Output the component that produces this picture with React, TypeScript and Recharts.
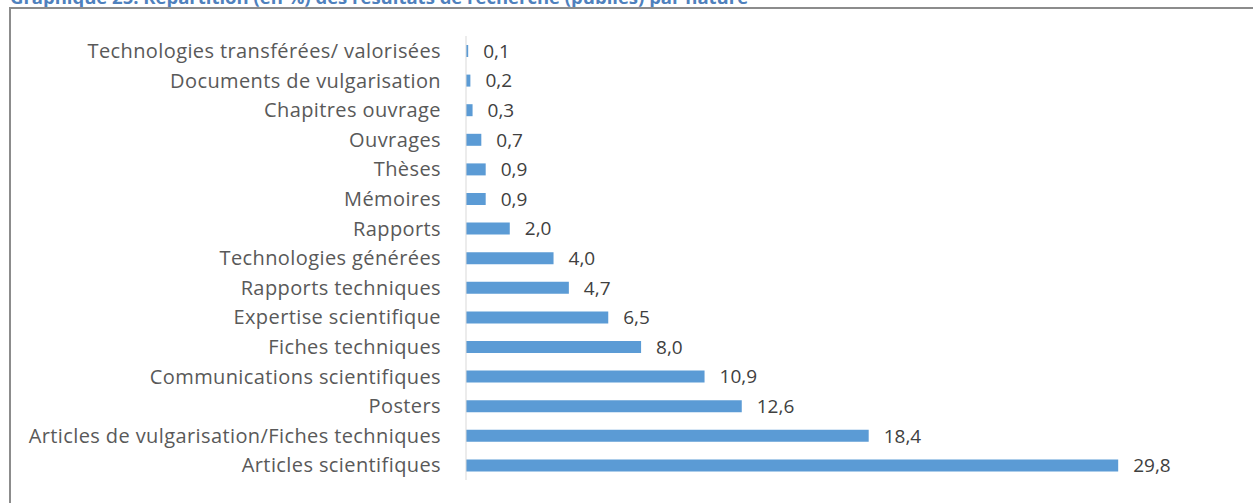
import { BarChart, Bar, XAxis, YAxis, LabelList } from "recharts";

const categories = [
  "Technologies transférées/ valorisées",
  "Documents de vulgarisation",
  "Chapitres ouvrage",
  "Ouvrages",
  "Thèses",
  "Mémoires",
  "Rapports",
  "Technologies générées",
  "Rapports techniques",
  "Expertise scientifique",
  "Fiches techniques",
  "Communications scientifiques",
  "Posters",
  "Articles de vulgarisation/Fiches techniques",
  "Articles scientifiques",
];

const shares = [0.1, 0.2, 0.3, 0.7, 0.9, 0.9, 2.0, 4.0, 4.7, 6.5, 8.0, 10.9, 12.6, 18.4, 29.8];

const title = "Graphique 25: Répartition (en %) des résultats de recherche (publiés) par nature";

const data = categories.map((name, i) => ({ name, value: shares[i] }));

const FONT = "'Open Sans', sans-serif";

export default function App() {
  return (
    <div style={{ position: "absolute", left: 0, top: 0, width: 1253, height: 503, background: "#fff", overflow: "hidden", fontFamily: FONT }}>
      <div
        style={{
          position: "absolute", left: 10, top: -12, fontSize: 18.5, lineHeight: "18.5px",
          fontWeight: 700, color: "#4f81bd", whiteSpace: "nowrap",
        }}
      >
        {title}
      </div>
      <div style={{ position: "absolute", left: 9, top: 7, width: 1260, height: 520, borderLeft: "2px solid #8c8c8c", borderTop: "2px solid #8c8c8c" }} />
      <div style={{ position: "absolute", left: 0, top: 0 }}>
        <BarChart
          width={1253}
          height={503}
          data={data}
          layout="vertical"
          margin={{ top: 36, right: 21, bottom: 23, left: 0 }}
        >
          <XAxis type="number" domain={[0, 35]} hide />
          <YAxis
            type="category"
            dataKey="name"
            width={466}
            interval={0}
            tickLine={false}
            tickSize={0}
            tickMargin={25}
            axisLine={{ stroke: "#d9d9d9" }}
            tick={{ fontSize: 20, fill: "#595959", fontFamily: FONT, letterSpacing: 0.4 }}
          />
          <Bar dataKey="value" fill="#5b9bd5" barSize={12} isAnimationActive={false}>
            <LabelList
              dataKey="value"
              position="right"
              offset={15}
              formatter={(v: number) => v.toFixed(1).replace(".", ",")}
              style={{ fontSize: 19, fill: "#404040", fontFamily: FONT }}
            />
          </Bar>
        </BarChart>
      </div>
    </div>
  );
}
